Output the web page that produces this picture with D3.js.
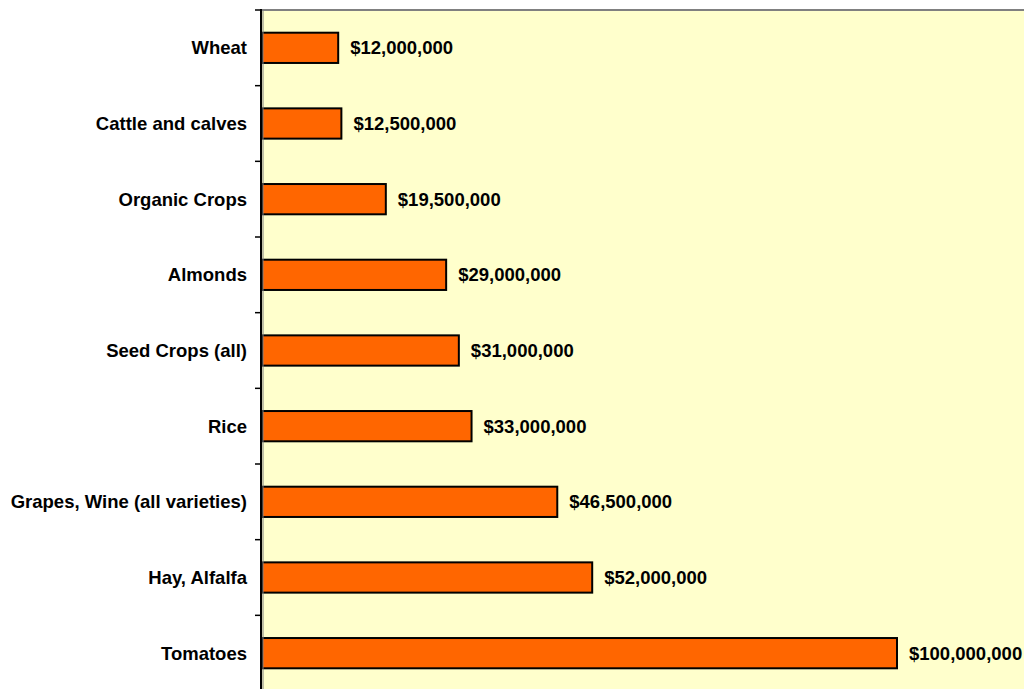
<!DOCTYPE html>
<html>
<head>
<meta charset="utf-8">
<script src="https://cdn.jsdelivr.net/npm/d3@7"></script>
<style>
  html, body { margin: 0; padding: 0; background: #ffffff; }
  svg { display: block; }
  text { font-family: "Liberation Sans", Arial, sans-serif; font-weight: bold; font-size: 18.5px; fill: #000; }
</style>
</head>
<body>
<svg id="chart" width="1024" height="689"></svg>
<script>
// Crop values in dollars, listed top to bottom
const crops = ["Wheat", "Cattle and calves", "Organic Crops", "Almonds", "Seed Crops (all)",
               "Rice", "Grapes, Wine (all varieties)", "Hay, Alfalfa", "Tomatoes"];
const values = [12000000, 12500000, 19500000, 29000000, 31000000,
                33000000, 46500000, 52000000, 100000000];
const valueMax = 120000000;

const svg = d3.select("#chart");
const plot = { left: 262, top: 10, right: 1024, bottom: 691 };

const x = d3.scaleLinear().domain([0, valueMax]).range([plot.left, plot.right]);
const y = d3.scaleBand().domain(crops).range([plot.top, plot.bottom]).paddingInner(0.6).paddingOuter(0.3);
const band = d3.scaleBand().domain(crops).range([plot.top, plot.bottom]);

// Plot background
svg.append("rect")
  .attr("x", plot.left).attr("y", plot.top)
  .attr("width", plot.right - plot.left).attr("height", plot.bottom - plot.top)
  .attr("fill", "#ffffcc");

// Top border
svg.append("line")
  .attr("x1", plot.left).attr("x2", plot.right)
  .attr("y1", plot.top).attr("y2", plot.top)
  .attr("stroke", "#808080").attr("stroke-width", 2);

// Bars
svg.selectAll("rect.bar")
  .data(crops)
  .enter().append("rect")
  .attr("class", "bar")
  .attr("x", x(0))
  .attr("y", d => y(d))
  .attr("width", (d, i) => x(values[i]) - x(0))
  .attr("height", y.bandwidth())
  .attr("fill", "#ff6600")
  .attr("stroke", "#000")
  .attr("stroke-width", 2);

// Value labels
const fmt = d3.format("$,");
svg.selectAll("text.value")
  .data(crops)
  .enter().append("text")
  .attr("class", "value")
  .attr("x", (d, i) => x(values[i]) + 12)
  .attr("y", d => y(d) + y.bandwidth() / 2)
  .attr("dy", "0.35em")
  .text((d, i) => fmt(values[i]));

// Category axis with tick marks at band boundaries
const axisG = svg.append("g");
axisG.append("line")
  .attr("x1", plot.left - 1).attr("x2", plot.left - 1)
  .attr("y1", plot.top - 1).attr("y2", plot.bottom)
  .attr("stroke", "#000").attr("stroke-width", 2);
axisG.append("line")
  .attr("x1", plot.left + 1).attr("x2", plot.left + 1)
  .attr("y1", plot.top).attr("y2", plot.bottom)
  .attr("stroke", "#808080").attr("stroke-width", 1);
axisG.selectAll("line.tick")
  .data(crops)
  .enter().append("line")
  .attr("class", "tick")
  .attr("x1", plot.left - 7).attr("x2", plot.left - 1)
  .attr("y1", d => band(d)).attr("y2", d => band(d))
  .attr("stroke", "#000").attr("stroke-width", 1.5);

axisG.selectAll("text.cat")
  .data(crops)
  .enter().append("text")
  .attr("class", "cat")
  .attr("x", plot.left - 15)
  .attr("y", d => band(d) + band.bandwidth() / 2)
  .attr("dy", "0.35em")
  .attr("text-anchor", "end")
  .text(d => d);
</script>
</body>
</html>
